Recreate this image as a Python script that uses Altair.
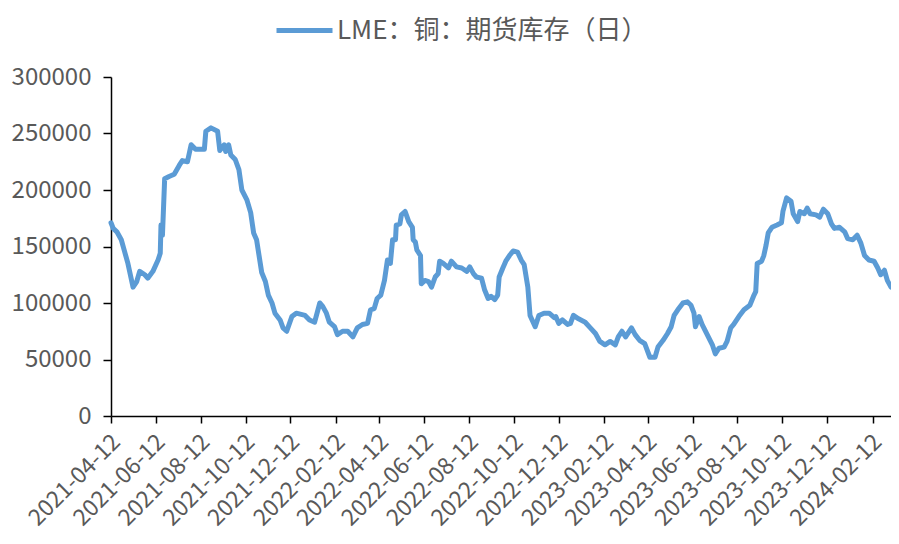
import altair as alt
import pandas as pd

start_date = "2021-04-12"
day_offsets = [0, 3, 8, 14, 17, 23, 30, 35, 39, 46, 50, 57, 64, 67, 68, 70, 73, 79, 86, 93,
               97, 104, 109, 115, 127, 129, 136, 145, 148, 154, 156, 160, 163, 169, 174, 178, 185, 190, 194, 198,
               205, 210, 214, 219, 223, 230, 234, 239, 246, 252, 264, 270, 277, 284, 288, 293, 297, 304, 308, 315,
               322, 329, 335, 342, 349, 353, 358, 362, 367, 372, 376, 380, 383, 387, 388, 393, 395, 400, 405, 410,
               411, 414, 416, 421, 422, 427, 432, 436, 441, 445, 447, 452, 459, 463, 470, 477, 484, 488, 493, 497,
               504, 508, 513, 517, 522, 526, 528, 533, 537, 542, 547, 553, 558, 562, 567, 570, 577, 582, 589, 596,
               603, 605, 609, 614, 621, 625, 629, 636, 645, 652, 659, 665, 672, 679, 686, 690, 695, 700, 708, 713,
               719, 726, 733, 740, 744, 751, 757, 762, 766, 771, 778, 784, 789, 793, 795, 800, 804, 811, 818, 822,
               827, 834, 838, 843, 847, 854, 861, 869, 874, 877, 879, 885, 888, 891, 894, 899, 906, 912, 914, 919,
               925, 928, 934, 937, 943, 947, 951, 959, 964, 969, 975, 980, 984, 991, 998, 1002, 1009, 1015, 1020, 1025,
               1031, 1038, 1043, 1047, 1052, 1056, 1061]
inventory_k = [171, 166, 163, 156, 149, 135, 114, 119, 128, 125, 122, 128, 138, 144, 169, 160, 210, 212, 214, 222,
               226, 225, 240, 236, 236, 252, 255, 252, 235, 240, 234, 240, 231, 227, 218, 200, 191, 180, 162, 156,
               127, 119, 107, 100, 91, 85, 78, 75, 88, 91, 89, 85, 83, 100, 97, 91, 83, 79, 72, 75,
               75, 70, 78, 81, 82, 94, 95, 104, 107, 120, 138, 135, 156, 156, 169, 170, 178, 181, 172, 167,
               156, 154, 147, 142, 117, 120, 119, 114, 123, 126, 137, 135, 131, 137, 132, 131, 128, 132, 126, 123,
               122, 112, 104, 106, 103, 107, 123, 131, 137, 142, 146, 145, 138, 134, 114, 89, 79, 89, 91, 91,
               87, 88, 82, 85, 81, 82, 89, 86, 83, 78, 73, 66, 63, 66, 63, 70, 75, 70, 78, 72,
               67, 64, 52, 52, 61, 67, 73, 79, 89, 94, 100, 101, 98, 91, 79, 88, 81, 72, 63, 55,
               60, 61, 66, 78, 81, 88, 94, 98, 106, 110, 135, 137, 142, 151, 162, 167, 169, 171, 181, 193,
               190, 179, 172, 181, 179, 184, 179, 178, 176, 183, 179, 170, 166, 167, 163, 157, 156, 160, 153, 142,
               138, 137, 131, 125, 129, 120, 114]
tick_dates = ["2021-04-12", "2021-06-12", "2021-08-12", "2021-10-12", "2021-12-12", "2022-02-12",
              "2022-04-12", "2022-06-12", "2022-08-12", "2022-10-12", "2022-12-12", "2023-02-12",
              "2023-04-12", "2023-06-12", "2023-08-12", "2023-10-12", "2023-12-12", "2024-02-12"]
y_ticks = [0, 50000, 100000, 150000, 200000, 250000, 300000]
series_name = "LME：铜：期货库存（日）"

t0 = pd.Timestamp(start_date)
dates = [t0 + pd.Timedelta(days=d) for d in day_offsets]
df = pd.DataFrame({
    "date": [d.strftime("%Y-%m-%d") for d in dates],
    "value": [v * 1000 for v in inventory_k],
    "series": series_name,
})

def ms(s):
    return int(pd.Timestamp(s).value // 10**6)

tick_ms = [ms(s) for s in tick_dates]
domain_ms = [ms(df["date"].iloc[0]), ms(df["date"].iloc[-1])]

FONT = "Noto Sans CJK SC"
GRAY = "#595959"

chart = alt.Chart(df).mark_line(strokeWidth=5, strokeJoin="round", strokeCap="round").encode(
    x=alt.X("date:T",
            scale=alt.Scale(type="utc", domain=domain_ms, nice=False),
            axis=alt.Axis(values=tick_ms, format="%Y-%m-%d", formatType="time", title=None,
                          labelAngle=-45, labelAlign="right", labelBaseline="middle",
                          labelFontSize=23, labelColor=GRAY, labelFont=FONT, labelPadding=15,
                          labelOffset=5,
                          tickColor="black", tickSize=7, tickWidth=1.5,
                          domainColor="black", domainWidth=1.5, grid=False, labelOverlap=False,
                          labelBound=False, labelFlush=False)),
    y=alt.Y("value:Q",
            scale=alt.Scale(domain=[0, 300000], nice=False),
            axis=alt.Axis(values=y_ticks, format="d", title=None,
                          labelFontSize=24, labelColor=GRAY, labelFont=FONT, labelPadding=12,
                          tickColor="black", tickSize=8, tickWidth=1.5,
                          domainColor="black", domainWidth=1.5, grid=False)),
    color=alt.Color("series:N", scale=alt.Scale(range=["#5B9BD5"]),
                    legend=alt.Legend(title=None, orient="none", legendX=177, legendY=-63,
                                      symbolType="M-2,0H2", symbolSize=784, symbolStrokeWidth=5,
                                      labelFontSize=26, labelColor=GRAY, labelFont=FONT,
                                      labelOffset=16, labelLimit=700)),
).properties(
    width=780,
    height=339,
    background="white",
    autosize=alt.AutoSizeParams(type="none"),
    padding={"left": 103, "top": 69, "right": 0, "bottom": 120},
).configure_view(stroke=None)

chart.save("out.html", embed_options={"renderer": "svg", "actions": False})
